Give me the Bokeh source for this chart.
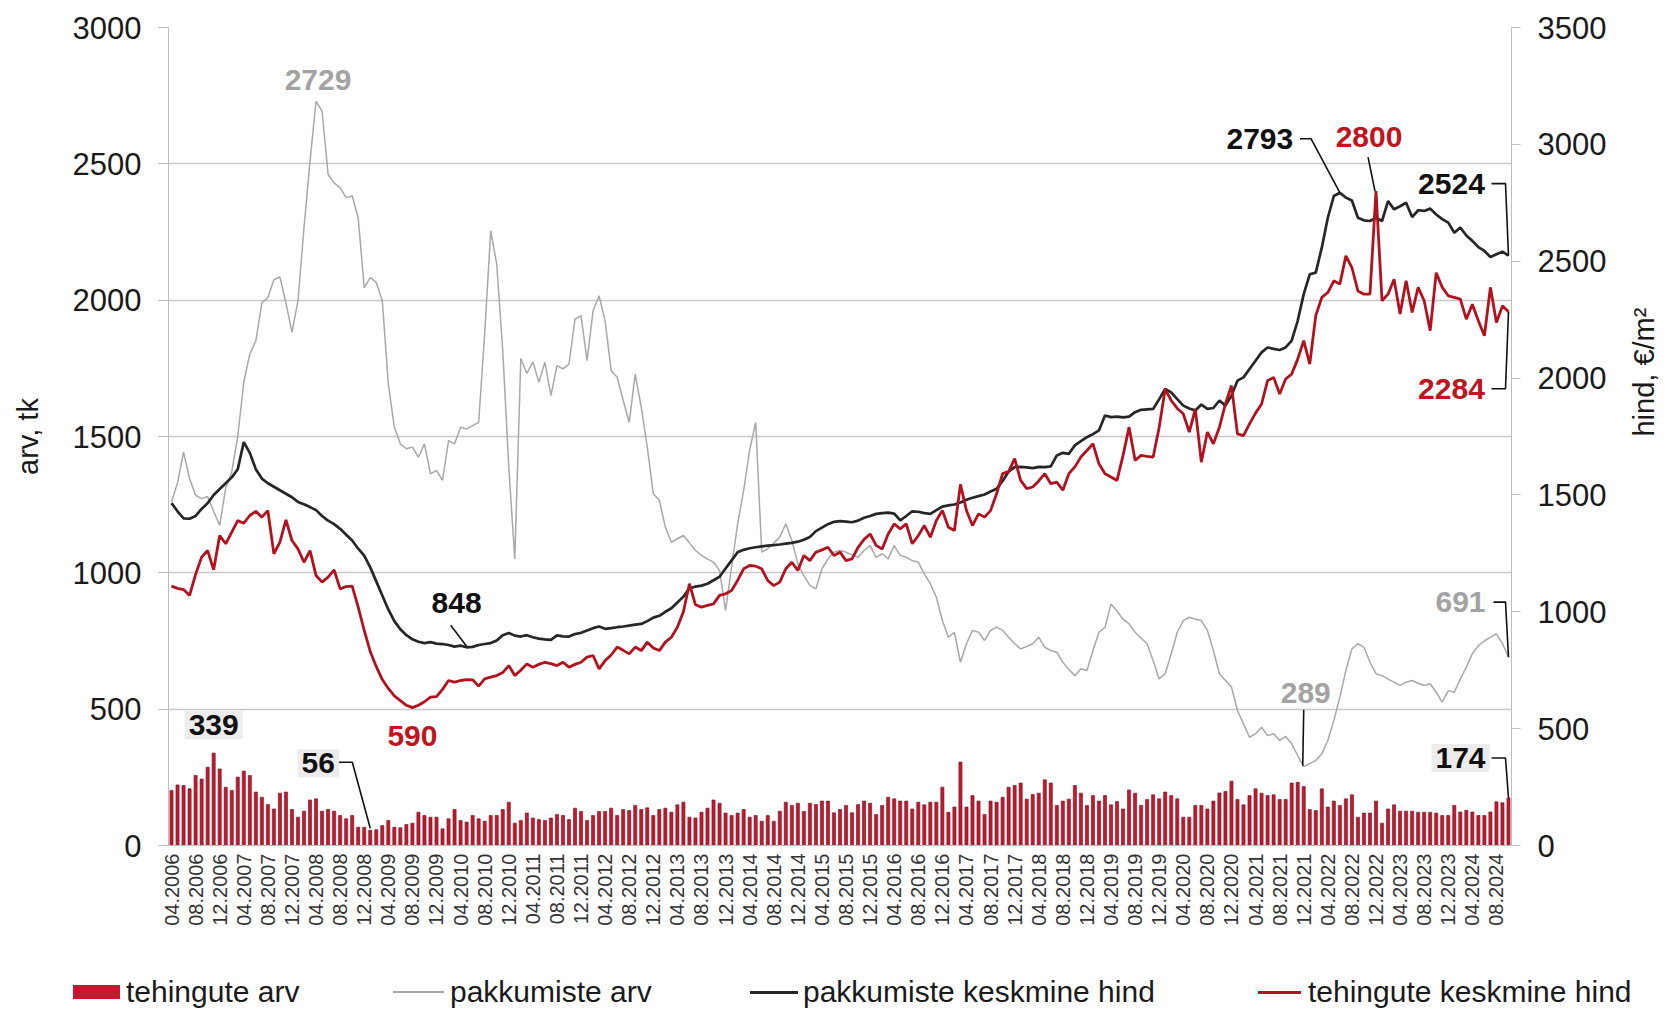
import math
from bokeh.plotting import figure
from bokeh.layouts import column
from bokeh.models import Range1d, LinearAxis, FixedTicker, ColumnDataSource, Div
from bokeh.core.properties import value
from bokeh.embed import file_html
from bokeh.resources import INLINE

# ---------------- data (monthly, 04.2006 ... 10.2024) ----------------
START_YEAR, START_MONTH, N_MONTHS = 2006, 4, 223

# tehingute arv (bars, left axis)
deals_count = [
    202, 222, 220, 208, 257, 244, 287, 339, 281,
    214, 202, 251, 273, 257, 196, 177, 150, 134, 192, 196, 132,
    104, 126, 167, 171, 126, 132, 126, 110, 98, 110, 67, 67,
    56, 58, 73, 92, 67, 65, 77, 82, 122, 110, 104, 104,
    61, 98, 132, 92, 86, 110, 98, 89, 110, 110, 132, 159,
    82, 92, 119, 101, 95, 92, 101, 114, 110, 95, 137, 125,
    92, 110, 125, 125, 137, 110, 132, 128, 147, 132, 138, 110,
    132, 137, 122, 149, 159, 104, 101, 122, 137, 167, 155, 119,
    110, 119, 132, 104, 110, 89, 110, 89, 126, 159, 147, 155,
    125, 155, 150, 163, 163, 120, 132, 147, 120, 150, 163, 155,
    114, 147, 177, 171, 163, 163, 134, 159, 149, 159, 159, 214,
    122, 141, 306, 141, 183, 163, 114, 163, 159, 177, 214, 220,
    229, 170, 187, 192, 241, 229, 147, 163, 170, 220, 192, 147,
    183, 163, 183, 149, 161, 134, 204, 192, 147, 169, 186, 171,
    196, 183, 171, 104, 104, 147, 147, 134, 163, 193, 198, 236,
    169, 149, 183, 208, 192, 183, 186, 169, 169, 229, 232, 216,
    132, 128, 208, 141, 163, 147, 171, 186, 104, 119, 119, 163,
    82, 134, 149, 126, 126, 126, 122, 122, 122, 119, 110, 110,
    147, 123, 129, 123, 110, 110, 123, 160, 157, 174,
]

# pakkumiste arv (grey line, left axis)
offers_count = [
    1260, 1330, 1443, 1345, 1285, 1272, 1280, 1225, 1174,
    1312, 1370, 1500, 1700, 1802, 1851, 1990, 2010, 2075, 2085, 1990, 1882,
    1998, 2266, 2510, 2729, 2693, 2461, 2430, 2412, 2376, 2382, 2302, 2046,
    2083, 2065, 1998, 1693, 1534, 1473, 1455, 1461, 1424, 1473, 1363, 1376,
    1339, 1485, 1473, 1534, 1528, 1540, 1552, 1876, 2254, 2132, 1815, 1388,
    1051, 1786, 1731, 1774, 1699, 1772, 1650, 1760, 1748, 1766, 1930, 1943,
    1778, 1961, 2016, 1924, 1741, 1717, 1632, 1552, 1729, 1607, 1461, 1290,
    1266, 1167, 1112, 1125, 1137, 1110, 1082, 1064, 1050, 1039, 1009, 862,
    1021, 1180, 1302, 1450, 1552, 1076, 1088, 1110, 1131, 1180, 1119, 1033,
    990, 954, 941, 1015, 1051, 1076, 1082, 1076, 1065, 1057, 1082, 1100,
    1057, 1070, 1051, 1100, 1064, 1057, 1045, 1039, 996, 960, 911, 825,
    764, 782, 672, 740, 789, 782, 752, 789, 801, 789, 764, 740,
    721, 730, 740, 764, 727, 715, 709, 672, 645, 623, 648, 642,
    715, 782, 800, 886, 860, 830, 813, 782, 760, 740, 678, 611,
    630, 703, 782, 825, 837, 830, 825, 789, 715, 630, 605, 581,
    495, 446, 397, 410, 434, 403, 410, 385, 400, 373, 330, 289,
    300, 312, 336, 385, 458, 544, 642, 721, 740, 727, 672, 630,
    623, 610, 599, 587, 599, 605, 595, 587, 593, 562, 526, 568,
    562, 610, 654, 703, 733, 750, 764, 776, 740, 691,
]

# pakkumiste keskmine hind (black line, right axis, EUR/m2)
offers_price = [
    1465, 1430, 1400, 1398, 1410, 1440, 1465, 1500, 1525,
    1550, 1575, 1610, 1726, 1680, 1610, 1570, 1550, 1535, 1520, 1505, 1490,
    1470, 1460, 1448, 1435, 1410, 1390, 1375, 1355, 1330, 1305, 1270, 1240,
    1190, 1130, 1070, 1010, 960, 925, 900, 882, 872, 866, 870, 864,
    862, 858, 851, 855, 848, 850, 858, 862, 866, 877, 900, 909,
    898, 894, 900, 891, 885, 882, 880, 899, 895, 894, 905, 910,
    920, 930, 937, 927, 930, 934, 937, 941, 945, 948, 960, 975,
    983, 1000, 1015, 1040, 1065, 1100, 1108, 1112, 1120, 1135, 1150, 1185,
    1220, 1255, 1265, 1272, 1276, 1280, 1283, 1285, 1288, 1292, 1295, 1300,
    1308, 1320, 1345, 1360, 1375, 1385, 1388, 1386, 1383, 1390, 1402, 1410,
    1419, 1422, 1424, 1420, 1391, 1410, 1430, 1428, 1422, 1419, 1435, 1450,
    1455, 1459, 1468, 1479, 1488, 1495, 1502, 1515, 1526, 1560, 1600, 1619,
    1620, 1618, 1615, 1620, 1619, 1622, 1669, 1680, 1676, 1712, 1730, 1747,
    1760, 1776, 1840, 1833, 1835, 1832, 1835, 1854, 1864, 1866, 1868, 1910,
    1953, 1939, 1910, 1882, 1870, 1861, 1887, 1868, 1872, 1904, 1882, 1925,
    1989, 2003, 2039, 2074, 2110, 2131, 2125, 2120, 2131, 2160, 2245, 2359,
    2444, 2451, 2558, 2686, 2779, 2793, 2772, 2760, 2686, 2675, 2672, 2686,
    2672, 2757, 2722, 2735, 2750, 2689, 2718, 2715, 2725, 2700, 2680, 2665,
    2622, 2644, 2610, 2587, 2560, 2544, 2518, 2530, 2541, 2524,
]

# tehingute keskmine hind (red line, right axis, EUR/m2)
deals_price = [
    1110, 1100, 1095, 1070, 1160, 1234, 1262, 1180, 1326,
    1291, 1341, 1390, 1379, 1412, 1430, 1405, 1433, 1248, 1298, 1393, 1305,
    1269, 1212, 1262, 1155, 1127, 1148, 1179, 1098, 1108, 1110, 1020, 920,
    830, 765, 710, 672, 640, 620, 600, 590, 600, 615, 635, 637,
    668, 706, 699, 706, 710, 709, 682, 713, 720, 727, 740, 770,
    727, 750, 777, 763, 775, 784, 778, 770, 784, 763, 775, 784,
    806, 813, 756, 791, 815, 849, 835, 820, 849, 834, 870, 845,
    834, 870, 891, 934, 1000, 1120, 1030, 1020, 1027, 1034, 1070, 1077,
    1091, 1134, 1184, 1198, 1195, 1184, 1134, 1112, 1127, 1184, 1212, 1177,
    1241, 1219, 1255, 1265, 1276, 1241, 1255, 1219, 1226, 1276, 1310, 1333,
    1284, 1269, 1333, 1376, 1355, 1376, 1291, 1326, 1369, 1319, 1391, 1433,
    1362, 1348, 1545, 1433, 1369, 1419, 1405, 1433, 1505, 1591, 1600, 1655,
    1562, 1527, 1534, 1560, 1591, 1548, 1555, 1520, 1591, 1620, 1662, 1690,
    1719, 1633, 1591, 1577, 1562, 1669, 1790, 1648, 1669, 1665, 1662, 1790,
    1953, 1904, 1870, 1847, 1769, 1868, 1640, 1769, 1719, 1790, 1889, 1968,
    1761, 1754, 1804, 1850, 1889, 1989, 2003, 1932, 1996, 2017, 2081, 2160,
    2060, 2267, 2345, 2366, 2416, 2402, 2523, 2473, 2373, 2359, 2359, 2800,
    2331, 2359, 2423, 2274, 2416, 2281, 2388, 2331, 2203, 2451, 2388, 2352,
    2345, 2338, 2252, 2316, 2245, 2181, 2388, 2238, 2309, 2284,
]

left_ticks = [0, 500, 1000, 1500, 2000, 2500, 3000]
right_ticks = [0, 500, 1000, 1500, 2000, 2500, 3000, 3500]
series_names = ["tehingute arv", "pakkumiste arv",
                "pakkumiste keskmine hind", "tehingute keskmine hind"]
left_title = "arv, tk"
right_title = "hind, €/m²"

# month category labels
month_labels = []
yy, mm = START_YEAR, START_MONTH
for _ in range(N_MONTHS):
    month_labels.append(f"{mm:02d}.{yy}")
    mm += 1
    if mm > 12:
        mm, yy = 1, yy + 1
idx = list(range(N_MONTHS))

# ---------------- styles ----------------
W, H = 1679, 940
BL, BR, BT, BB = 168, 163, 27, 95
FW, FH = W - BL - BR, H - BT - BB
FONT = "Liberation Sans"
TXT = "#1a1a1a"
AXC = "#bdbdbd"
BAR_FILL, BAR_LINE = "#c5182f", "#6e0f1a"
GRAY_L, BLACK_L, RED_L = "#a8a8a8", "#262626", "#b3111d"

p = figure(width=W, height=H, output_backend="svg", toolbar_location=None,
           x_range=Range1d(-0.5, N_MONTHS - 0.5), y_range=Range1d(0, 3000),
           min_border_left=BL, min_border_right=BR, min_border_top=BT,
           min_border_bottom=BB)
p.extra_y_ranges = {"price": Range1d(0, 3500)}
p.outline_line_color = None
p.background_fill_color = "white"
p.border_fill_color = "white"

p.xgrid.visible = False
p.ygrid.ticker = FixedTicker(ticks=left_ticks)
p.ygrid.grid_line_color = "#c8c8c8"
p.ygrid.grid_line_width = 1.3

ya = p.yaxis[0]
ya.ticker = FixedTicker(ticks=left_ticks)
ya.axis_line_color = AXC
ya.major_tick_line_color = AXC
ya.major_tick_out = 10
ya.major_tick_in = 0
ya.minor_tick_line_color = None
ya.major_label_standoff = 17
ya.major_label_text_font = FONT
ya.major_label_text_font_size = "31px"
ya.major_label_text_color = TXT
ya.axis_label = left_title
ya.axis_label_standoff = 26
ya.axis_label_text_font = FONT
ya.axis_label_text_font_size = "29px"
ya.axis_label_text_font_style = "normal"
ya.axis_label_text_color = TXT

ra = LinearAxis(y_range_name="price", ticker=FixedTicker(ticks=right_ticks))
ra.axis_line_color = AXC
ra.major_tick_line_color = AXC
ra.major_tick_out = 9
ra.major_tick_in = 0
ra.minor_tick_line_color = None
ra.major_label_standoff = 17
ra.major_label_text_font = FONT
ra.major_label_text_font_size = "31px"
ra.major_label_text_color = TXT
ra.axis_label = right_title
ra.axis_label_standoff = 35
ra.axis_label_text_font = FONT
ra.axis_label_text_font_size = "29px"
ra.axis_label_text_font_style = "normal"
ra.axis_label_text_color = TXT
if "axis_label_orientation" in ra.properties():
    ra.axis_label_orientation = math.pi / 2
p.add_layout(ra, "right")

xa = p.xaxis[0]
xa.ticker = FixedTicker(ticks=list(range(0, N_MONTHS, 4)))
xa.major_label_overrides = {i: month_labels[i] for i in range(0, N_MONTHS, 4)}
xa.major_label_orientation = math.pi / 2
xa.major_tick_out = 0
xa.major_tick_in = 0
xa.minor_tick_line_color = None
xa.axis_line_color = AXC
xa.major_label_standoff = 8
xa.major_label_text_font = FONT
xa.major_label_text_font_size = "20px"
xa.major_label_text_color = "#333333"

src = ColumnDataSource(dict(x=idx, bars=deals_count, gray=offers_count,
                            black=offers_price, red=deals_price))

p.vbar(x="x", top="bars", width=0.52, source=src,
       fill_color=BAR_FILL, line_color=BAR_LINE, line_width=0.6)
p.line("x", "gray", source=src, line_color=GRAY_L, line_width=1.5)
p.line("x", "black", source=src, y_range_name="price",
       line_color=BLACK_L, line_width=2.7)
p.line("x", "red", source=src, y_range_name="price",
       line_color=RED_L, line_width=2.8)

# ---------------- annotations ----------------
ppx = FW / N_MONTHS
ppy = {"default": FH / 3000.0, "price": FH / 3500.0}

GRAY_T, BLACK_T, RED_T = "#a3a3a3", "#111111", "#c0141e"
# (series, index, range, color, dx, dy, boxed, leader offsets in px)
notes = [
    (offers_count, 24, "default", GRAY_T, 2, -21, False, []),
    (deals_count, 7, "default", BLACK_T, 0, -28, True, []),
    (deals_count, 33, "default", BLACK_T, -52, -67, True,
     [(-32, -68), (-18, -68), (0, -2)]),
    (deals_price, 40, "price", RED_T, 0, 28, False, []),
    (offers_price, 49, "price", BLACK_T, -10, -44, False, [(-16, -22), (0, -1)]),
    (offers_price, 194, "price", BLACK_T, -80, -54, False,
     [(-40, -54), (-29, -54), (0, 0)]),
    (deals_price, 200, "price", RED_T, -7, -54, False, [(-8, -34), (-1, 0)]),
    (offers_price, 222, "price", BLACK_T, -57, -72, False,
     [(-17, -72), (-3, -72), (0, 0)]),
    (deals_price, 222, "price", RED_T, -57, 77, False,
     [(-17, 77), (-3, 77), (0, 0)]),
    (offers_count, 222, "default", GRAY_T, -48, -55, False,
     [(-15, -55), (-3, -55), (0, 0)]),
    (offers_count, 188, "default", GRAY_T, 2, -74, False, [(0, -57), (-1, -1)]),
    (deals_count, 222, "default", BLACK_T, -48, -40, True,
     [(-17, -40), (-3, -40), (0, 0)]),
]

for series, i, rng, col, dx, dy, boxed, leader in notes:
    v = series[i]
    if leader:
        lx = [i + ox / ppx for ox, oy in leader]
        ly = [v - oy / ppy[rng] for ox, oy in leader]
        p.line(lx, ly, y_range_name=rng, line_color="#111111", line_width=1.6)
    kw = dict(x=[i], y=[v], text=[str(v)], y_range_name=rng,
              x_offset=dx, y_offset=dy, text_align="center",
              text_baseline="middle", text_font=value(FONT),
              text_font_style="bold", text_font_size="30px", text_color=col)
    if boxed:
        kw.update(background_fill_color="#ececec", background_fill_alpha=1.0,
                  padding=4)
    p.text(**kw)

# ---------------- legend strip (HTML) ----------------
LH = 66
# (swatch left, swatch width, swatch height, colour, text left)
legend_layout = [(73, 47, 14, BAR_FILL, 126), (393, 51, 2, GRAY_L, 450),
                 (750, 48, 3, BLACK_L, 803), (1258, 43, 3, RED_L, 1308)]
parts = []
mid = 52
for (sl, sw, sh, col, tl), name in zip(legend_layout, series_names):
    parts.append(f'<span style="position:absolute;left:{sl}px;top:{mid - sh / 2}px;'
                 f'width:{sw}px;height:{sh}px;background:{col};"></span>')
    parts.append(f'<span style="position:absolute;left:{tl}px;top:{mid - 16}px;'
                 f'line-height:32px;white-space:nowrap;">{name}</span>')
legend_html = (f'<div style="position:relative;width:{W}px;height:{LH}px;'
               f'font-family:\'{FONT}\',Arial,sans-serif;font-size:30px;'
               f'color:{TXT};">' + "".join(parts) + '</div>')
legend_div = Div(text=legend_html, width=W, height=LH, margin=(0, 0, 0, 0))

layout = column(p, legend_div, spacing=0)
open("out.html", "w").write(file_html(layout, INLINE))
